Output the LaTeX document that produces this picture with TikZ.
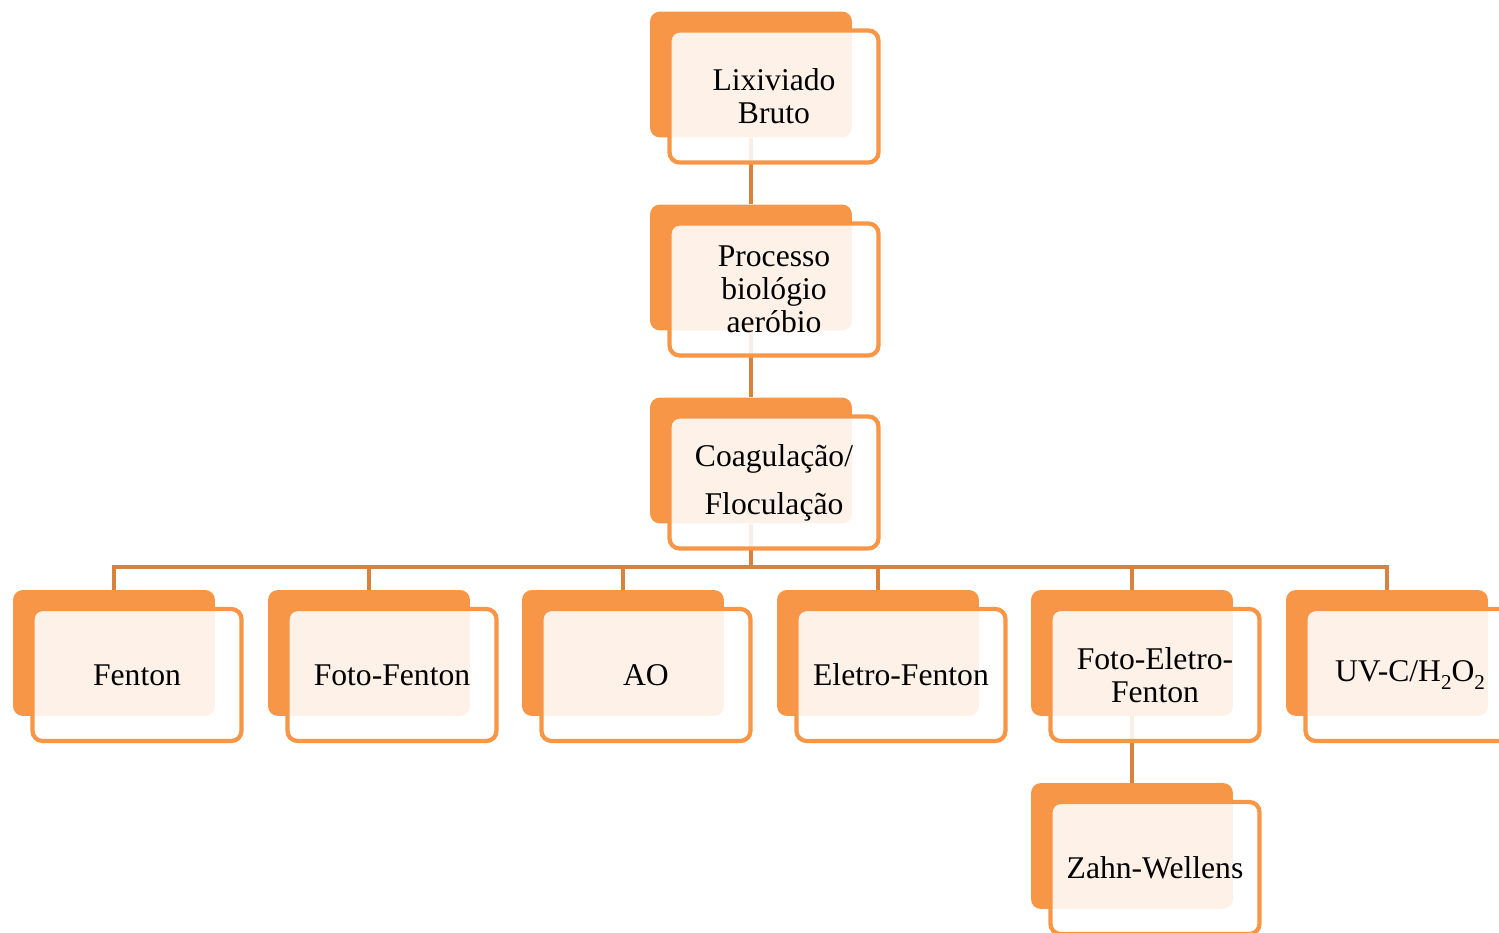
\documentclass[tikz,border=0pt]{standalone}
\usepackage{fontspec}
\setmainfont{Liberation Serif}
\definecolor{boxorange}{HTML}{F79646}
\definecolor{linkorange}{RGB}{218,130,60}
\newcommand{\lowtwo}{\raisebox{-0.55ex}{\fontsize{12pt}{12pt}\selectfont 2}}
\tikzset{
  back/.style={fill=boxorange, rounded corners=0.2cm, inner sep=0pt,
    minimum width=4.04cm, minimum height=2.52cm},
  front/.style={draw=boxorange, line width=0.085cm, fill=white, fill opacity=0.88,
    text opacity=1, rounded corners=0.2cm, inner sep=0pt, align=center,
    minimum width=4.18cm, minimum height=2.64cm, xshift=0.46cm, yshift=-0.44cm,
    font=\fontsize{18pt}{18.8pt}\selectfont},
  link/.style={draw=linkorange, line width=0.085cm}
}
\begin{document}
\begin{tikzpicture}[x=0.02cm,y=-0.02cm]
  \useasboundingbox (0,0) rectangle (1499,933);
  % back boxes
  \node[back] (0) at (751,74.5) {};
  \node[back] (1) at (751,267.5) {};
  \node[back] (2) at (751,460.5) {};
  \node[back] (3) at (114,653) {};
  \node[back] (4) at (369,653) {};
  \node[back] (5) at (623,653) {};
  \node[back] (6) at (878,653) {};
  \node[back] (7) at (1132,653) {};
  \node[back] (8) at (1387,653) {};
  \node[back] (9) at (1132,846) {};
  % connectors
  \coordinate (bus) at (751,567);
  \begin{scope}[link]
    \draw (0.south) -- (1.north);
    \draw (1.south) -- (2.north);
    \foreach \n in {3,...,8}
      \draw (2.south) -- (2.south |- bus) -| (\n.north);
    \draw (7.south) -- (9.north);
  \end{scope}
  % front boxes
  \node[front] (t0) at (0) {Lixiviado\\Bruto};
  \node[front] (t1) at (1) {Processo\\biológio\\aeróbio};
  \node[front] (t2) at (2) {Coagulação/\\[0.3cm]Floculação};
  \node[front] (t3) at (3) {Fenton};
  \node[front] (t4) at (4) {Foto-Fenton};
  \node[front] (t5) at (5) {AO};
  \node[front] (t6) at (6) {Eletro-Fenton};
  \node[front] (t7) at (7) {Foto-Eletro-\\Fenton};
  \node[front] (t8) at (8) {UV-C/H\lowtwo O\lowtwo};
  \node[front] (t9) at (9) {Zahn-Wellens};
\end{tikzpicture}
\end{document}
